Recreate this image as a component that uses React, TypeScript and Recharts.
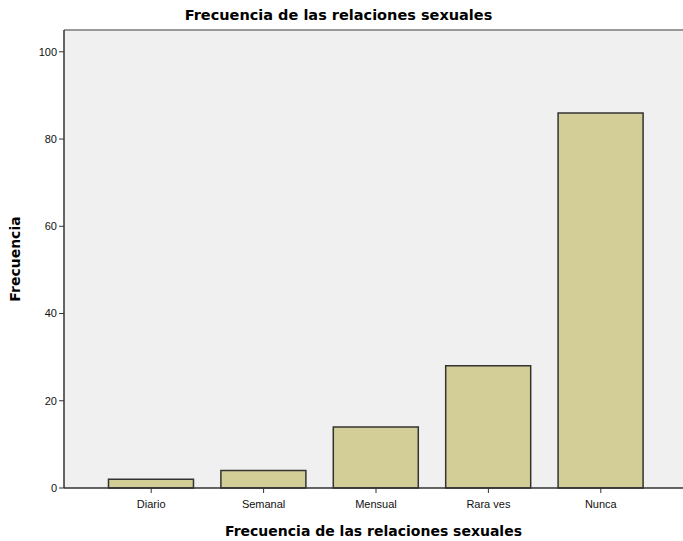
import { BarChart, Bar, XAxis, YAxis, CartesianGrid, ReferenceLine } from 'recharts';

// Frecuencia de las relaciones sexuales — conteos por categoría
const categorias = ['Diario', 'Semanal', 'Mensual', 'Rara ves', 'Nunca'];
const frecuencias = [2, 4, 14, 28, 86];
const yTicks = [0, 20, 40, 60, 80, 100];

const data = categorias.map((c, i) => ({ categoria: c, frecuencia: frecuencias[i] }));

const W = 683;
const H = 541;
const tickFont = { fill: '#111', fontSize: 11, fontFamily: '"Liberation Sans", Arial, sans-serif' };
const boldFont = '"DejaVu Sans", Verdana, sans-serif';

export default function App() {
  return (
    <div style={{ position: 'absolute', left: 0, top: 0, width: W, height: H, background: '#fff' }}>
      <div
        style={{
          position: 'absolute',
          top: 5,
          left: -3,
          width: W,
          textAlign: 'center',
          fontFamily: boldFont,
          fontWeight: 'bold',
          fontSize: 14.5,
          lineHeight: '20px',
          color: '#000',
        }}
      >
        Frecuencia de las relaciones sexuales
      </div>
      <BarChart
        width={W}
        height={H}
        data={data}
        margin={{ top: 30, right: 0, left: 0, bottom: 0 }}
        barCategoryGap="12%"
      >
        <CartesianGrid fill="#F0F0F0" stroke="none" horizontal={false} vertical={false} />
        <ReferenceLine y={105} stroke="#999" strokeWidth={2} />
        <XAxis
          dataKey="categoria"
          padding={{ left: 31, right: 26 }}
          tick={{ ...tickFont, dy: 5 }}
          tickLine={{ stroke: '#333' }}
          tickSize={5}
          axisLine={{ stroke: '#333', strokeWidth: 1.5 }}
          height={53}
          label={{
            value: 'Frecuencia de las relaciones sexuales',
            position: 'insideBottom',
            offset: 5,
            style: { fontFamily: boldFont, fontWeight: 'bold', fontSize: 14, fill: '#000' },
          }}
        />
        <YAxis
          domain={[0, 105]}
          ticks={yTicks}
          width={64}
          tick={tickFont}
          tickLine={{ stroke: '#333' }}
          tickSize={5}
          axisLine={{ stroke: '#333', strokeWidth: 1.5 }}
          label={{
            value: 'Frecuencia',
            angle: -90,
            position: 'insideLeft',
            offset: 15,
            style: { fontFamily: boldFont, fontWeight: 'bold', fontSize: 14, fill: '#000', textAnchor: 'middle' },
          }}
        />
        <Bar dataKey="frecuencia" fill="#D3CE97" stroke="#333" strokeWidth={1.5} isAnimationActive={false} />
      </BarChart>
    </div>
  );
}
